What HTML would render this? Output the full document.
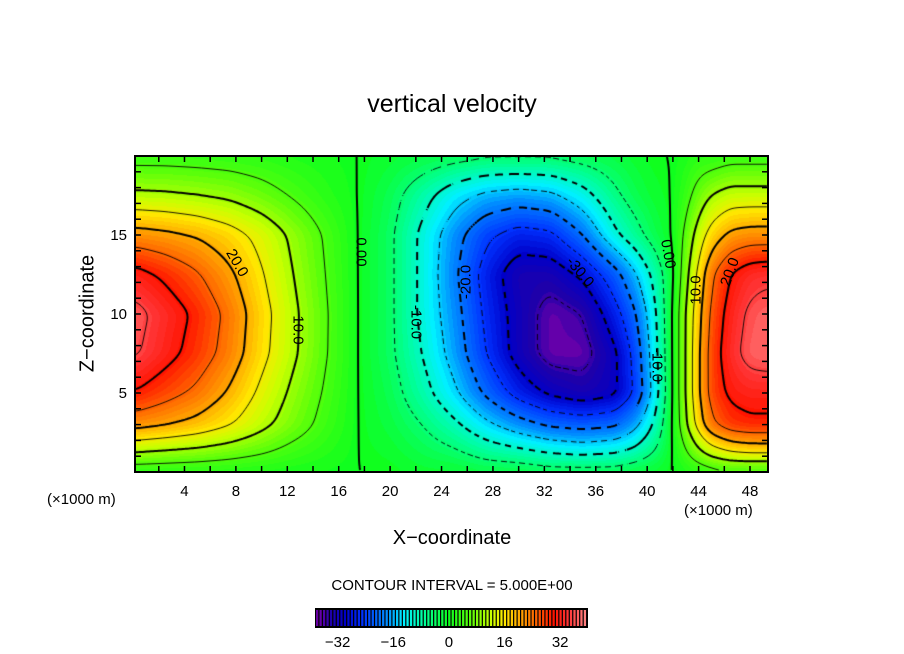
<!DOCTYPE html>
<html><head><meta charset="utf-8">
<style>
body{margin:0;background:#fff;}
#wrap{position:relative;width:904px;height:654px;overflow:hidden;font-family:"Liberation Sans",sans-serif;color:#000;}
.t{position:absolute;white-space:nowrap;}
canvas{position:absolute;}
</style></head><body>
<div id="wrap">
<div class="t" style="left:0;width:904px;text-align:center;top:90px;font-size:25px;">vertical velocity</div>
<canvas id="plot" width="633" height="316" style="left:135px;top:156px;"></canvas>
<svg id="ov" width="904" height="654" style="position:absolute;left:0;top:0"></svg>
<div class="t" style="left:47px;top:491px;font-size:15px;">(×1000 m)</div>
<div class="t" style="left:684px;top:502px;font-size:15px;">(×1000 m)</div>
<div class="t" style="left:0;width:904px;text-align:center;top:527px;font-size:20px;">X−coordinate</div>
<div class="t" style="left:-12px;top:302px;width:200px;text-align:center;font-size:20px;transform:rotate(-90deg);">Z−coordinate</div>
<div class="t" style="left:0;width:904px;text-align:center;top:577px;font-size:15px;">CONTOUR INTERVAL = 5.000E+00</div>
</div>
<script>
const xNodes=[0,2.5,5,7.5,10,12.5,15,17.5,20,22.5,25,27.5,30,32.5,35,37.5,39,40.5,42,43,44,45,46.5,48,50];
const zNodes=[0,1.5,3,5,7.5,10,12.5,15,17.5,20];
const rowZ0 =[2,1.8,1.6,1.3,.9,.6,.3, 0,0,-1,-1,-2,-2,-3,-3,-3,-2,-1,0,1,2,3,4,4,4];
const rowZ1 =[12,11,10,8.5,6.5,4,2, 0,-1,-3,-5,-8,-10,-12,-13,-12,-10,-6,0,5,10,14,17,18,18];
const rowZ3 =[22,20.5,18.5,15.5,11.5,7.5,3.5, 0,-2,-5,-9,-14,-18,-21,-22,-21,-17,-10,0,9,17,24,28,29,29];
const rowZ5 =[30,27,24,19.5,14,9,4.5, 0,-3,-8,-14,-21,-27,-31,-33,-31,-25,-14,0,10,19,27,31,32,32];
const rowZ7 =[36,32,28,23,16.5,10.8,5.4, 0,-4,-10,-17,-25,-32,-37,-37,-31,-24,-13,0,10,19,27,33,37,38];
const rowZ10=[37,33,29,23.7,17,11,5.5, 0,-4,-11,-18,-26,-32,-37,-35,-27,-21,-12,0,10,18,26,32,36,38];
const rowZ12=[32,29,25.5,21,15.5,10,5, 0,-4,-11,-19,-27,-33,-33,-29,-22,-16,-9,-1,8,16,24,30,33,34];
const rowZ15=[22,21,19.5,17,13.5,9,4.5, 0,-4,-11,-18,-24,-27,-26,-20,-11,-7,-3,0,6,12,17,21,22,22];
const rowZ17=[11,10.7,10,9,7,4.5,2, 0,-3,-8,-13,-16,-17,-16,-12,-6,-3,-1,0,3,7,10,12,12,12];
const rowZ20=[3,3,2.8,2.5,2,1.2,.6, 0,-1,-2,-3,-4,-4,-4,-3,-2,-1,0,0,1,2,2,3,3,3];
const grid=[rowZ0,rowZ1,rowZ3,rowZ5,rowZ7,rowZ10,rowZ12,rowZ15,rowZ17,rowZ20];
const xTicks=[4,8,12,16,20,24,28,32,36,40,44,48];
const zTicks=[5,10,15];
const cbTicks=[-32,-16,0,16,32];
const levels=[-35,-30,-25,-20,-15,-10,-5,0,5,10,15,20,25,30,35];

const PX=135,PY=156,W=633,H=316,X0=0.15,X1=49.4,Z0=0,Z1=20;
const sx=x=>PX+(x-X0)/(X1-X0)*W;
const sz=z=>PY+H-(z-Z0)/(Z1-Z0)*H;

function idx(nodes,v){let i=0;while(i<nodes.length-2&&v>nodes[i+1])i++;const t=Math.max(0,Math.min(1,(v-nodes[i])/(nodes[i+1]-nodes[i])));return [i,t];}
function val(x,z){const [i,tx]=idx(xNodes,x);const [j,tz]=idx(zNodes,z);
 const a=grid[j][i],b=grid[j][i+1],c=grid[j+1][i],d=grid[j+1][i+1];
 return (a*(1-tx)+b*tx)*(1-tz)+(c*(1-tx)+d*tx)*tz;}

const stops=[[-40,[110,0,150]],[-37,[100,0,170]],[-34,[30,0,170]],[-30,[0,0,200]],[-25,[0,50,255]],[-18,[0,140,255]],[-13,[0,240,255]],[-7,[0,255,150]],[0,[16,255,30]],[6,[90,255,10]],[12,[200,255,0]],[16,[255,230,0]],[20,[255,170,0]],[25,[255,100,0]],[30,[255,20,0]],[34,[255,50,50]],[38,[255,110,110]],[41,[255,160,160]]];
function cmap(v){if(v<=stops[0][0])return stops[0][1];for(let k=0;k<stops.length-1;k++){const [a,ca]=stops[k],[b,cb]=stops[k+1];if(v<=b){const t=(v-a)/(b-a);return ca.map((c,n)=>Math.round(c+(cb[n]-c)*t));}}return stops[stops.length-1][1];}

let F=new Float32Array(W*H);
for(let py=0;py<H;py++)for(let px=0;px<W;px++){const x=X0+(px+0.5)/W*(X1-X0),z=Z1-(py+0.5)/H*(Z1-Z0);F[py*W+px]=val(x,z);}
function blur(A,r){const B=new Float32Array(W*H);
 for(let y=0;y<H;y++)for(let x=0;x<W;x++){let s=0,n=0;for(let k=-r;k<=r;k++){const xx=Math.min(W-1,Math.max(0,x+k));s+=A[y*W+xx];n++;}B[y*W+x]=s/n;}
 const C=new Float32Array(W*H);
 for(let y=0;y<H;y++)for(let x=0;x<W;x++){let s=0,n=0;for(let k=-r;k<=r;k++){const yy=Math.min(H-1,Math.max(0,y+k));s+=B[yy*W+x];n++;}C[y*W+x]=s/n;}
 return C;}
F=blur(blur(F,5),5);
const cv=document.getElementById('plot'),ctx=cv.getContext('2d');
const img=ctx.createImageData(W,H);
for(let i=0;i<W*H;i++){const c=cmap(Math.round(F[i]));img.data[i*4]=c[0];img.data[i*4+1]=c[1];img.data[i*4+2]=c[2];img.data[i*4+3]=255;}
ctx.putImageData(img,0,0);
const S=2;
function fv(x,y){return F[Math.min(H-1,y)*W+Math.min(W-1,x)];}
levels.forEach(L=>{
 const thick=(L%10===0);const dashed=L<0;
 ctx.strokeStyle='#000';ctx.lineWidth=thick?2:0.9;ctx.beginPath();
 for(let y=0;y<H-S;y+=S)for(let x=0;x<W-S;x+=S){
  const v=[fv(x,y),fv(x+S,y),fv(x+S,y+S),fv(x,y+S)];
  const p=[[x,y],[x+S,y],[x+S,y+S],[x,y+S]];const pts=[];
  for(let e=0;e<4;e++){const a=v[e],b=v[(e+1)%4];if((a<L)!==(b<L)){const t=(L-a)/(b-a);const pa=p[e],pb=p[(e+1)%4];pts.push([pa[0]+(pb[0]-pa[0])*t,pa[1]+(pb[1]-pa[1])*t]);}}
  if(dashed&&Math.floor((x+y)/(thick?7:5))%2===1)continue;
  for(let k=0;k+1<pts.length;k+=2){ctx.moveTo(pts[k][0],pts[k][1]);ctx.lineTo(pts[k+1][0],pts[k+1][1]);}
 }
 ctx.stroke();});

const NS='http://www.w3.org/2000/svg';
const ov=document.getElementById('ov');
function el(tag,attrs){const e=document.createElementNS(NS,tag);for(const k in attrs)e.setAttribute(k,attrs[k]);ov.appendChild(e);return e;}
const fr=el('rect',{x:PX,y:PY,width:W,height:H,fill:'none',stroke:'#000','stroke-width':2});


for(let x=2;x<50;x+=2){const X=sx(x);el('line',{x1:X,x2:X,y1:PY,y2:PY+6,stroke:'#000','stroke-width':1.5});el('line',{x1:X,x2:X,y1:PY+H,y2:PY+H-6,stroke:'#000','stroke-width':1.5});}
for(let z=1;z<20;z++){const Y=sz(z);el('line',{x1:PX,x2:PX+6,y1:Y,y2:Y,stroke:'#000','stroke-width':1.5});el('line',{x1:PX+W,x2:PX+W-6,y1:Y,y2:Y,stroke:'#000','stroke-width':1.5});}
xTicks.forEach(t=>{const e=el('text',{x:sx(t),y:496,'text-anchor':'middle','font-size':15,'font-family':'Liberation Sans'});e.textContent=t;
 
 });
zTicks.forEach(t=>{const e=el('text',{x:127,y:sz(t)+5,'text-anchor':'end','font-size':15,'font-family':'Liberation Sans'});e.textContent=t;
 
 });
const labs=[["0.00",361,252,90],["20.0",237,263,60],["10.0",298,330,90],["-10.0",416,322,90],["-20.0",466,282,-90],["-30.0",580,272,50],["0.00",668,254,80],["10.0",696,290,-90],["20.0",730,272,-70],["-10.0",657,365,90]];
labs.forEach(l=>{const e=el('text',{x:0,y:0,transform:`translate(${l[1]},${l[2]}) rotate(${l[3]})`,'text-anchor':'middle','dominant-baseline':'central','font-size':15,'font-family':'Liberation Sans'});e.textContent=l[0];
 
 });
const CB0=315,CB1=588,CBy=608,CBh=20,VMIN=-38.5,VMAX=40;
const cbx=v=>CB0+(v-VMIN)/(VMAX-VMIN)*(CB1-CB0);
el('rect',{x:CB0,y:CBy,width:CB1-CB0,height:CBh,fill:'#000'});
for(let v=VMIN;v<VMAX-0.9;v+=1){const c=cmap(v+0.5);const r=el('rect',{x:cbx(v)+1,y:CBy+2,width:Math.max(1,cbx(v+1)-cbx(v)-1.2),height:CBh-4,fill:`rgb(${c[0]},${c[1]},${c[2]})`});
 
 }
cbTicks.forEach(t=>{const e=el('text',{x:cbx(t),y:647,'text-anchor':'middle','font-size':15,'font-family':'Liberation Sans'});e.textContent=t<0?'−'+(-t):t;
 
 });
</script>
</body></html>
